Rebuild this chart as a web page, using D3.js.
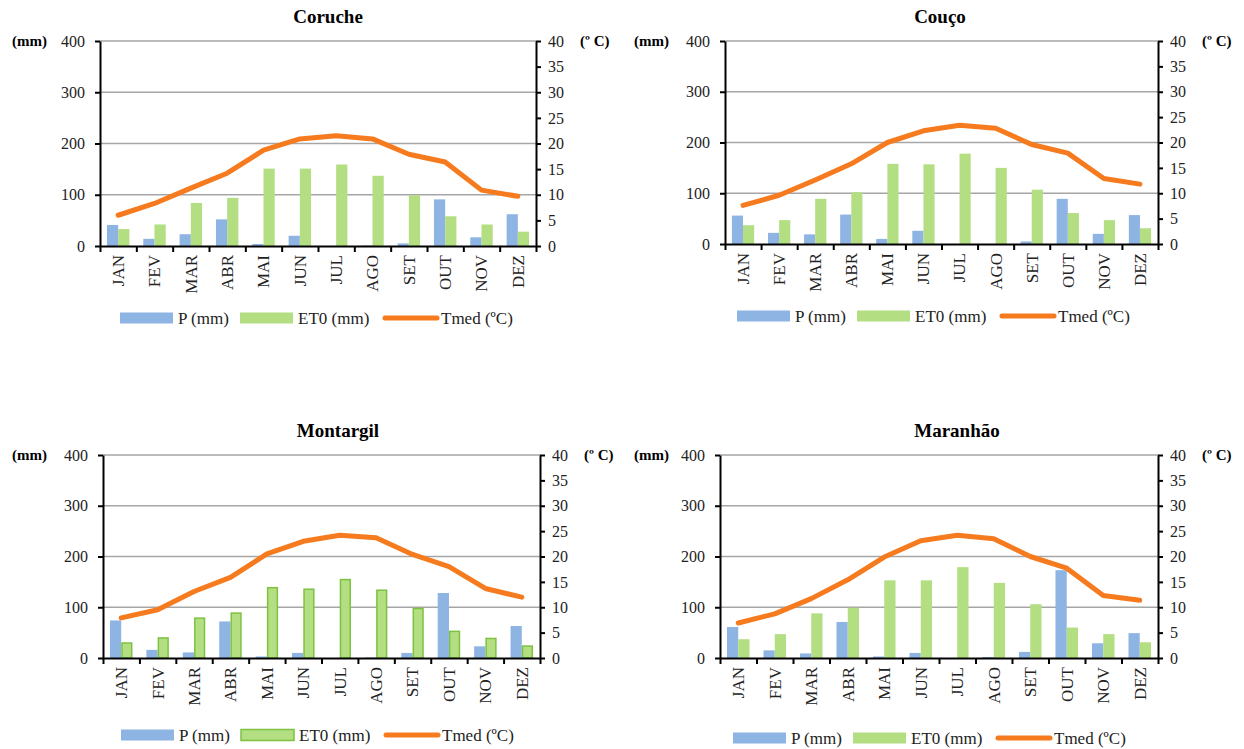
<!DOCTYPE html>
<html>
<head>
<meta charset="utf-8">
<script src="https://cdn.jsdelivr.net/npm/d3@7"></script>
<style>
  body { margin: 0; background: #fff; }
  svg { display: block; font-family: "Liberation Serif", "DejaVu Serif", serif; }
</style>
</head>
<body>
<div id="chart"></div>
<script>
// Months and axis ticks
const months = ["JAN", "FEV", "MAR", "ABR", "MAI", "JUN", "JUL", "AGO", "SET", "OUT", "NOV", "DEZ"];
const mmTicks = [0, 100, 200, 300, 400];
const tempTicks = [0, 5, 10, 15, 20, 25, 30, 35, 40];
const legendLabels = ["P (mm)", "ET0 (mm)", "Tmed (ºC)"];

// Coruche
const pCoruche = [41, 14, 23, 52, 4, 20, 0, 1, 5, 91, 17, 62];
const et0Coruche = [33, 42, 84, 94, 151, 151, 159, 137, 99, 58, 42, 28];
const tCoruche = [6.0, 8.3, 11.3, 14.2, 18.7, 20.9, 21.5, 20.9, 17.9, 16.4, 10.9, 9.7];

// Couço
const pCouco = [56, 22, 19, 58, 10, 26, 0, 0, 5, 89, 20, 57];
const et0Couco = [37, 47, 89, 102, 158, 157, 178, 150, 107, 61, 47, 31];
const tCouco = [7.6, 9.6, 12.6, 15.8, 20.0, 22.3, 23.4, 22.8, 19.6, 17.9, 12.9, 11.8];

// Montargil
const pMontargil = [74, 16, 11, 72, 3, 10, 0, 1, 10, 128, 23, 63];
const et0Montargil = [31, 41, 80, 90, 140, 137, 156, 135, 99, 54, 40, 25];
const tMontargil = [7.9, 9.5, 13.1, 15.9, 20.5, 23.0, 24.2, 23.7, 20.4, 18.0, 13.7, 12.0];

// Maranhão
const pMaranhao = [61, 15, 9, 71, 3, 10, 0, 2, 12, 173, 29, 49];
const et0Maranhao = [37, 47, 88, 99, 153, 153, 179, 148, 106, 60, 47, 31];
const tMaranhao = [6.9, 8.7, 11.7, 15.4, 19.9, 23.1, 24.2, 23.5, 20.0, 17.7, 12.3, 11.4];

const stations = [
  { name: "Coruche", p: pCoruche, et0: et0Coruche, t: tCoruche },
  { name: "Couço", p: pCouco, et0: et0Couco, t: tCouco },
  { name: "Montargil", p: pMontargil, et0: et0Montargil, t: tMontargil, outlined: true },
  { name: "Maranhão", p: pMaranhao, et0: et0Maranhao, t: tMaranhao }
];

// Plot rectangles and label placement for each panel
const panels = [
  { left: 100, right: 536, top: 41, bottom: 246, titleX: 328, titleY: 23, mmX: 12, legendX: 120, legendY: 318 },
  { left: 725, right: 1158, top: 41, bottom: 244, titleX: 940, titleY: 23, mmX: 634, legendX: 737, legendY: 316 },
  { left: 103, right: 540, top: 455, bottom: 658, titleX: 338, titleY: 437, mmX: 12, legendX: 121, legendY: 735 },
  { left: 720, right: 1158, top: 455, bottom: 658, titleX: 957, titleY: 437, mmX: 634, legendX: 733, legendY: 738 }
];

const colors = { p: "#8EB4E3", et0: "#B3DE81", t: "#F57B1E", grid: "#A6A6A6", et0Edge: "#7DC242" };
const legendOffsets = [0, 120, 263];
const serif = "'Liberation Serif', 'DejaVu Serif', serif";

const width = 1244;
const height = 749;

const svg = d3.select("#chart")
  .append("svg")
  .attr("width", width)
  .attr("height", height);

stations.forEach(function (st, i) {
  drawPanel(svg.append("g"), st, panels[i]);
});

function drawPanel(g, st, pn) {
  const x = d3.scaleBand().domain(months).range([pn.left, pn.right]);
  const xSub = d3.scaleBand().domain(["p", "et0"]).range([0, x.bandwidth()]).paddingOuter(0.62);
  const xEdge = d3.scaleLinear().domain([0, months.length]).range([pn.left, pn.right]);
  const yL = d3.scaleLinear().domain([0, 400]).range([pn.bottom, pn.top]);
  const yR = d3.scaleLinear().domain([0, 40]).range([pn.bottom, pn.top]);

  // gridlines
  g.selectAll(".grid")
    .data(mmTicks.slice(1))
    .enter().append("line")
    .attr("x1", pn.left).attr("x2", pn.right)
    .attr("y1", d => yL(d)).attr("y2", d => yL(d))
    .attr("stroke", colors.grid)
    .attr("stroke-width", 1.3);

  // bars
  const rows = months.map((m, k) => ({ m: m, p: st.p[k], et0: st.et0[k], t: st.t[k] }));
  const inset = st.outlined ? 0.75 : 0;

  g.selectAll(".barP")
    .data(rows)
    .enter().append("rect")
    .attr("x", d => x(d.m) + xSub("p"))
    .attr("y", d => yL(d.p))
    .attr("width", xSub.bandwidth())
    .attr("height", d => pn.bottom - yL(d.p))
    .attr("fill", colors.p);

  g.selectAll(".barE")
    .data(rows)
    .enter().append("rect")
    .attr("x", d => x(d.m) + xSub("et0") + inset)
    .attr("y", d => yL(d.et0) + inset)
    .attr("width", xSub.bandwidth() - 2 * inset)
    .attr("height", d => pn.bottom - yL(d.et0) - inset)
    .attr("fill", colors.et0)
    .attr("stroke", st.outlined ? colors.et0Edge : "none")
    .attr("stroke-width", 1.5);

  // left axis
  const axL = g.append("g")
    .attr("transform", "translate(" + pn.left + ",0)")
    .call(d3.axisLeft(yL).tickValues(mmTicks).tickSize(5).tickSizeOuter(0).tickPadding(10));
  // right axis
  const axR = g.append("g")
    .attr("transform", "translate(" + pn.right + ",0)")
    .call(d3.axisRight(yR).tickValues(tempTicks).tickSize(5).tickSizeOuter(0).tickPadding(7));
  // bottom axis, ticks between categories
  const axB = g.append("g")
    .attr("transform", "translate(0," + pn.bottom + ")")
    .call(d3.axisBottom(xEdge).tickValues(d3.range(months.length + 1)).tickFormat("").tickSize(6).tickSizeOuter(0));

  [axL, axR, axB].forEach(function (ax) {
    ax.attr("font-family", serif).attr("font-size", 16);
    ax.select(".domain").attr("stroke", "#000").attr("stroke-width", 2);
    ax.selectAll(".tick line").attr("stroke", "#000").attr("stroke-width", 2);
    ax.selectAll("text").attr("fill", "#222");
  });

  // month labels, rotated
  g.append("g")
    .attr("font-family", serif)
    .selectAll("text")
    .data(months)
    .enter().append("text")
    .attr("transform", d => "translate(" + (x(d) + x.bandwidth() / 2) + "," + (pn.bottom + 9) + ") rotate(-90)")
    .attr("dy", "0.35em")
    .attr("text-anchor", "end")
    .attr("fill", "#222")
    .style("font-size", "17px")
    .text(d => d);

  // temperature line
  const line = d3.line()
    .x(d => x(d.m) + x.bandwidth() / 2)
    .y(d => yR(d.t));

  g.append("path")
    .datum(rows)
    .attr("d", line)
    .attr("fill", "none")
    .attr("stroke", colors.t)
    .attr("stroke-width", 5)
    .attr("stroke-linecap", "round")
    .attr("stroke-linejoin", "round");

  // title and unit labels
  g.append("text")
    .attr("x", pn.titleX).attr("y", pn.titleY)
    .attr("text-anchor", "middle")
    .attr("font-family", serif)
    .style("font-size", "19px").style("font-weight", "bold")
    .text(st.name);

  g.append("text")
    .attr("x", pn.mmX).attr("y", pn.top + 5)
    .attr("font-family", serif)
    .style("font-size", "15px").style("font-weight", "bold")
    .text("(mm)");

  g.append("text")
    .attr("x", pn.right + 44).attr("y", pn.top + 5)
    .attr("font-family", serif)
    .style("font-size", "15px").style("font-weight", "bold")
    .text("(º C)");

  // legend
  const lg = g.append("g")
    .attr("font-family", serif)
    .attr("transform", "translate(" + pn.legendX + "," + pn.legendY + ")");
  [colors.p, colors.et0].forEach(function (c, k) {
    lg.append("rect")
      .attr("x", legendOffsets[k]).attr("y", -5.5)
      .attr("width", 53).attr("height", 11)
      .attr("fill", c)
      .attr("stroke", (k === 1 && st.outlined) ? colors.et0Edge : "none")
      .attr("stroke-width", 1.5);
  });
  lg.append("line")
    .attr("x1", legendOffsets[2] + 2).attr("x2", legendOffsets[2] + 54)
    .attr("y1", 0).attr("y2", 0)
    .attr("stroke", colors.t)
    .attr("stroke-width", 5)
    .attr("stroke-linecap", "round");
  legendLabels.forEach(function (lab, k) {
    lg.append("text")
      .attr("x", legendOffsets[k] + 58).attr("y", 0)
      .attr("dy", "0.35em")
      .attr("fill", "#222")
      .style("font-size", "17px")
      .text(lab);
  });
}
</script>
</body>
</html>
